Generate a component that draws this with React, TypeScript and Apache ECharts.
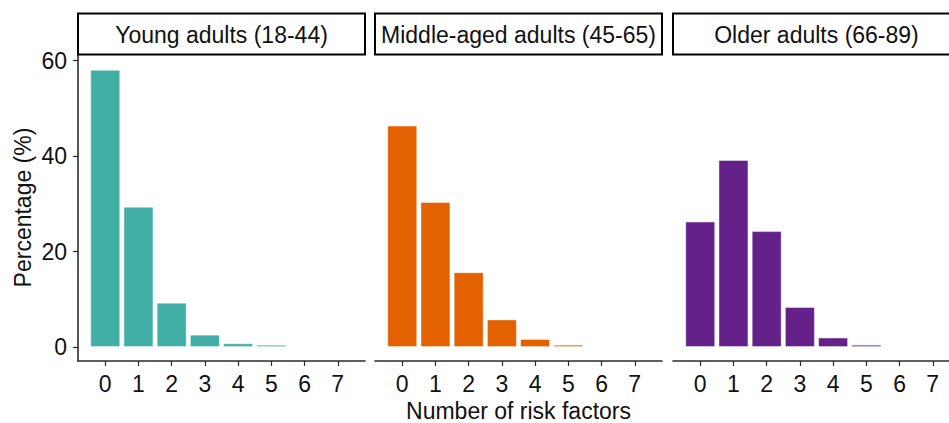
import React, { useEffect, useRef } from "react";
import * as echarts from "echarts";

const riskFactors = [0, 1, 2, 3, 4, 5, 6, 7];
const youngAdults = [58.1, 29.4, 9.3, 2.6, 0.8, 0.5, 0, 0];
const middleAged = [46.4, 30.4, 15.7, 5.8, 1.7, 0.5, 0, 0];
const olderAdults = [26.3, 39.2, 24.3, 8.4, 2.0, 0.5, 0, 0];
const yTicks = [0, 20, 40, 60];
const panelTitles = ["Young adults (18-44)", "Middle-aged adults (45-65)", "Older adults (66-89)"];
const panelColors = ["#41AFA6", "#E46100", "#64218A"];
const panelSeries = [youngAdults, middleAged, olderAdults];

const FONT = "Liberation Sans, Arial, sans-serif";
const PANEL_LEFTS = [78, 375, 673];
const PANEL_W = 287;
const GRID_TOP = 54;
const GRID_H = 307;

export default function App() {
  const ref = useRef<HTMLDivElement>(null);
  useEffect(() => {
    if (!ref.current) return;
    const chart = echarts.init(ref.current, undefined, { renderer: "svg" });
    const axisColor = "#2b2b2b";
    const option: any = {
      animation: false,
      backgroundColor: "#ffffff",
      grid: PANEL_LEFTS.map((l) => ({
        left: l,
        top: GRID_TOP,
        width: PANEL_W,
        height: GRID_H,
        containLabel: false,
        outerBoundsMode: "none",
      })),
      xAxis: PANEL_LEFTS.map((_, i) => ({
        type: "value",
        gridIndex: i,
        min: -0.82,
        max: 7.82,
        axisLine: { show: true, onZero: false, lineStyle: { color: axisColor, width: 1.6 } },
        axisTick: { show: true, length: 5, customValues: riskFactors, lineStyle: { color: axisColor, width: 1.2 } },
        axisLabel: { customValues: riskFactors, fontSize: 23, color: "#111111", margin: 11, fontFamily: FONT },
        splitLine: { show: false },
        name: i === 1 ? "Number of risk factors" : "",
        nameLocation: "middle",
        nameGap: 35,
        nameTextStyle: { fontSize: 23, color: "#111111", fontFamily: FONT },
      })),
      yAxis: PANEL_LEFTS.map((_, i) => ({
        type: "value",
        gridIndex: i,
        min: -2.92,
        max: 61.4,
        show: i === 0,
        axisLine: { show: true, onZero: false, lineStyle: { color: axisColor, width: 1.6 } },
        axisTick: { show: true, length: 5, customValues: yTicks, lineStyle: { color: axisColor, width: 1.2 } },
        axisLabel: { customValues: yTicks, fontSize: 23, color: "#111111", margin: 11, fontFamily: FONT },
        splitLine: { show: false },
        name: i === 0 ? "Percentage (%)" : "",
        nameLocation: "middle",
        nameGap: 44,
        nameTextStyle: { fontSize: 23, color: "#111111", fontFamily: FONT },
      })),
      series: panelSeries.map((vals, i) => ({
        type: "bar",
        xAxisIndex: i,
        yAxisIndex: i,
        barWidth: 30,
        data: riskFactors.map((x, j) => [x, vals[j]]),
        itemStyle: { color: panelColors[i], borderColor: "rgba(255,255,255,0.45)", borderWidth: 1 },
      })),
      graphic: PANEL_LEFTS.flatMap((l, i) => [
        {
          type: "rect",
          shape: { x: l, y: 13.5, width: PANEL_W, height: 41 },
          style: { fill: "#ffffff", stroke: "#000000", lineWidth: 2 },
          z: 10,
        },
        {
          type: "text",
          x: l + PANEL_W / 2,
          y: 35,
          style: {
            text: panelTitles[i],
            fontSize: 23,
            fontFamily: FONT,
            fill: "#111111",
            align: "center",
            verticalAlign: "middle",
          },
          z: 11,
        },
      ]),
    };
    chart.setOption(option);
    return () => chart.dispose();
  }, []);
  return (
    <div
      ref={ref}
      style={{ position: "fixed", left: 0, top: 0, width: 949, height: 423 }}
    />
  );
}
